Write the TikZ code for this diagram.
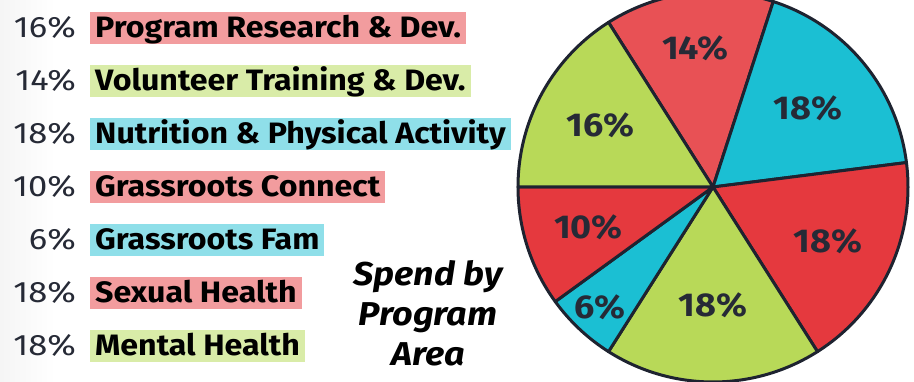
\documentclass[tikz,border=0pt]{standalone}
\usepackage{fontspec}
\setmainfont{Fira Sans}[FakeStretch=1.09]
\newfontfamily\pctfont{Fira Sans}[FakeStretch=1.17]
\usetikzlibrary{positioning,calc}
\definecolor{pieRed}{HTML}{E5393E}
\definecolor{pieRedLight}{HTML}{E85155}
\definecolor{pieCyan}{HTML}{1BBFD3}
\definecolor{pieGreen}{HTML}{B8D958}
\definecolor{boxRed}{HTML}{F29C9E}
\definecolor{boxGreen}{HTML}{D9ECA8}
\definecolor{boxCyan}{HTML}{8FDFE9}
\definecolor{outline}{HTML}{1E2330}
\definecolor{textGray}{HTML}{262A36}
\tikzset{
  legendbox/.style={
      fill=#1, text=black, anchor=west,
      inner xsep=5pt, inner ysep=5pt, text height=21pt, text depth=1pt,
      font=\bfseries\fontsize{29.5}{30}\selectfont
    },
  pctlabel/.style={
      text=textGray, inner xsep=0pt, inner ysep=5pt, text height=21pt, text depth=1pt,
      font=\pctfont\fontsize{29.5}{30}\selectfont
    },
  slicelabel/.style={text=textGray, font=\bfseries\fontsize{33}{36}\selectfont}
}

\begin{document}
\begin{tikzpicture}[x=1pt,y=1pt]
		\useasboundingbox (0,0) rectangle (914,382);
		\clip (0,0) rectangle (914,382);
		\shade[left color=black!4, right color=white] (0,0) rectangle (55,382);
		\def\radius{195} % Radius of the pie
		\coordinate (C) at (713,195);

		% Legend rows
		\foreach \i/\pct/\name/\col in {
			1/16/Program Research \& Dev./boxRed,
			2/14/Volunteer Training \& Dev./boxGreen,
			3/18/Nutrition \& Physical Activity/boxCyan,
			4/10/Grassroots Connect/boxRed,
			5/6/Grassroots Fam/boxCyan,
			6/18/Sexual Health/boxRed,
			7/18/Mental Health/boxGreen} {
		  \pgfmathsetmacro\rowY{354 - 53*(\i-1)}
		  \node[legendbox=\col] (lbl\i) at (90,\rowY) {\name};
		  \node[pctlabel, left=14pt of lbl\i] (pct\i) {\pct\%};
		}

		\node[align=center, font=\bfseries\itshape\fontsize{33}{40}\selectfont] (title) at (428,69)
		  {Spend by\\Program\\Area};

		% Slices: start angle / end angle / colour / value / label distance
		\foreach \a/\b/\col/\val/\lr in {
			122.4/72/pieRedLight/14/140,
			72/7.2/pieCyan/18/123,
			7.2/-57.6/pieRed/18/127,
			-57.6/-122.4/pieGreen/18/118,
			-122.4/-144/pieCyan/6/165,
			-144/-180/pieRed/10/131,
			-180/-237.6/pieGreen/16/128} {
		  \filldraw[fill=\col, draw=outline, line width=3pt, line join=round]
			(C) -- ++(\a:\radius) arc[start angle=\a, end angle=\b, radius=\radius] -- cycle;
		  \pgfmathsetmacro\mid{(\a+\b)/2}
		  \node[slicelabel] (s\val-\lr) at ($(C)+(\mid:\lr)$) {\val\%};
		}
	  \end{tikzpicture}
\end{document}
